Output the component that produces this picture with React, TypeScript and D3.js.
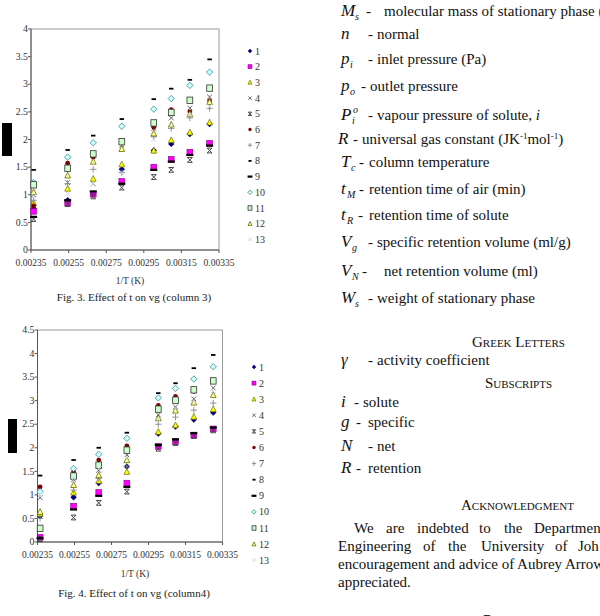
import * as d3 from "d3";

// 1/T of the column temperatures (150, 120, 100, 80, 60, 50, 40, 30 °C)
const invT = [0.002364, 0.002545, 0.002681, 0.002833, 0.003003, 0.003096, 0.003195, 0.0033];
const xTickLabels = ["0.00235", "0.00255", "0.00275", "0.00295", "0.00315", "0.00335"];
const seriesNames = ["1", "2", "3", "4", "5", "6", "7", "8", "9", "10", "11", "12", "13"];

// ln Vg per solute, column 3
const fig3Vg: number[][] = [
  [0.75, 0.9, 1.02, 1.46, 1.8, 1.92, 2.1, 2.28],
  [0.7, 0.85, 1.01, 1.24, 1.5, 1.64, 1.77, 1.93],
  [0.85, 1.11, 1.29, 1.55, 1.8, 1.99, 2.13, 2.31],
  [1.0, 1.22, 1.2, 1.9, 2.2, 2.39, 2.57, 2.77],
  [0.56, 0.83, 0.97, 1.13, 1.32, 1.45, 1.63, 1.8],
  [0.8, 1.57, 1.68, 1.95, 2.22, 2.54, 2.5, 2.7],
  [0.9, 1.2, 1.46, 1.4, 2.05, 2.2, 2.39, 2.56],
  [1.45, 1.81, 2.07, 2.37, 2.73, 2.92, 3.08, 3.45],
  [0.6, 0.9, 1.06, 1.2, 1.45, 1.6, 1.72, 1.89],
  [1.22, 1.68, 1.94, 2.24, 2.55, 2.74, 2.98, 3.22],
  [1.18, 1.48, 1.74, 1.96, 2.3, 2.49, 2.71, 2.93],
  [1.05, 1.35, 1.6, 1.83, 2.11, 2.27, 2.46, 2.68],
  [0.98, 1.02, 1.2, 1.4, 2.0, 2.25, 2.45, 2.6],
];

// ln Vg per solute, column 4
const fig4Vg: number[][] = [
  [0.55, 0.95, 1.25, 1.6, 2.3, 2.45, 2.6, 2.75],
  [0.1, 0.76, 1.05, 1.25, 2.03, 2.13, 2.27, 2.4],
  [0.6, 1.05, 1.3, 1.49, 2.34, 2.48, 2.66, 2.82],
  [0.94, 1.32, 1.52, 1.85, 2.7, 2.87, 3.04, 3.27],
  [0.06, 0.52, 0.83, 1.07, 1.98, 2.1, 2.25, 2.37],
  [1.17, 1.49, 1.74, 2.04, 2.9, 3.09, 3.2, 3.4],
  [0.5, 1.1, 1.35, 1.6, 2.5, 2.65, 2.8, 2.95],
  [1.41, 1.74, 2.0, 2.32, 3.16, 3.37, 3.69, 3.97],
  [0.08, 0.69, 0.98, 1.17, 2.06, 2.18, 2.31, 2.43],
  [1.07, 1.56, 1.86, 2.2, 3.06, 3.26, 3.46, 3.72],
  [0.29, 1.4, 1.63, 1.95, 2.82, 3.01, 3.23, 3.42],
  [0.64, 1.21, 1.42, 1.74, 2.63, 2.79, 2.96, 3.12],
  [1.0, 1.35, 1.55, 1.8, 2.6, 2.85, 3.0, 3.2],
];

const markerKinds = [
  "diamond", "square", "triangle", "x", "star", "circle", "plus",
  "dashShort", "dashLong", "diamondOpen", "squareOpen", "triangleOpen", "xLight",
];

const serif = "'Liberation Serif', 'Times New Roman', serif";

function Marker({ kind, x, y, s }: { kind: string; x: number; y: number; s: number }) {
  const dia = `M${x},${y - s}L${x + s},${y}L${x},${y + s}L${x - s},${y}Z`;
  const tri = `M${x},${y - s}L${x + s * 0.9},${y + s * 0.8}L${x - s * 0.9},${y + s * 0.8}Z`;
  const k = s * 0.75;
  switch (kind) {
    case "diamond":
      return <path d={dia} fill="#000080" />;
    case "square":
      return <rect x={x - s * 0.9} y={y - s * 0.9} width={s * 1.8} height={s * 1.8} fill="#ff00ff" stroke="#800080" strokeWidth={0.6} />;
    case "triangle":
      return <path d={tri} fill="#ffff00" stroke="#6b6b00" strokeWidth={0.7} />;
    case "x":
      return <path d={`M${x - k},${y - k}L${x + k},${y + k}M${x + k},${y - k}L${x - k},${y + k}`} stroke="#555" strokeWidth={0.9} />;
    case "star":
      return (
        <path
          d={`M${x - k},${y - k}L${x + k},${y + k}M${x + k},${y - k}L${x - k},${y + k}M${x - k},${y - k}L${x + k},${y - k}M${x - k},${y + k}L${x + k},${y + k}`}
          stroke="#333"
          strokeWidth={0.9}
        />
      );
    case "circle":
      return <circle cx={x} cy={y} r={s * 0.75} fill="#800000" />;
    case "plus":
      return <path d={`M${x - s},${y}L${x + s},${y}M${x},${y - s}L${x},${y + s}`} stroke="#888" strokeWidth={0.9} />;
    case "dashShort":
      return <rect x={x - s * 0.7} y={y - 0.9} width={s * 1.4} height={1.8} fill="#000" />;
    case "dashLong":
      return <rect x={x - s * 1.1} y={y - 1.1} width={s * 2.2} height={2.2} fill="#000" />;
    case "diamondOpen":
      return <path d={dia} fill="#ccffff" stroke="#3a8c8c" strokeWidth={0.8} />;
    case "squareOpen":
      return <rect x={x - s * 0.9} y={y - s} width={s * 1.8} height={s * 2} fill="#ccffcc" stroke="#333" strokeWidth={0.8} />;
    case "triangleOpen":
      return <path d={tri} fill="#ffff99" stroke="#6b6b00" strokeWidth={0.8} />;
    default:
      return <path d={`M${x - k},${y - k}L${x + k},${y + k}M${x + k},${y - k}L${x - k},${y + k}`} stroke="#c3d3e6" strokeWidth={0.9} />;
  }
}

type Box = { left: number; right: number; top: number; bottom: number };

function ScatterPanel(props: {
  values: number[][];
  box: Box;
  yMax: number;
  legendX: number;
  legendY: number;
  legendStep: number;
  titleY: number;
  captionY: number;
  caption: string;
  redact: Box;
}) {
  const { values, box, yMax, legendX, legendY, legendStep } = props;
  const x = d3.scaleLinear().domain([0.00235, 0.00335]).range([box.left, box.right]);
  const y = d3.scaleLinear().domain([0, yMax]).range([box.bottom, box.top]);
  const yTicks = d3.range(0, yMax + 1e-9, 0.5);

  return (
    <g fontFamily={serif}>
      <rect x={box.left} y={box.top} width={box.right - box.left} height={box.bottom - box.top} fill="#fff" stroke="#9a9a9a" strokeWidth={1} />
      <line x1={box.left} x2={box.left} y1={box.top} y2={box.bottom} stroke="#555" />
      <line x1={box.left} x2={box.right} y1={box.bottom} y2={box.bottom} stroke="#555" />
      {yTicks.map((t) => (
        <g key={t}>
          <line x1={box.left - 3} x2={box.left} y1={y(t)} y2={y(t)} stroke="#555" />
          <text x={box.left - 3} y={y(t) + 3.2} fontSize={9.8} textAnchor="end" fill="#333">
            {+t.toFixed(1)}
          </text>
        </g>
      ))}
      {xTickLabels.map((t) => (
        <g key={t}>
          <line x1={x(+t)} x2={x(+t)} y1={box.bottom} y2={box.bottom + 3} stroke="#555" />
          <text x={x(+t)} y={box.bottom + 16} fontSize={9.5} textAnchor="middle" fill="#333">
            {t}
          </text>
        </g>
      ))}
      {values.map((row, si) =>
        row.map((v, i) => <Marker key={`${si}-${i}`} kind={markerKinds[si]} x={x(invT[i])} y={y(v)} s={3.2} />)
      )}
      {seriesNames.map((name, si) => (
        <g key={name}>
          <Marker kind={markerKinds[si]} x={legendX} y={legendY + si * legendStep} s={2.2} />
          <text x={legendX + 5} y={legendY + si * legendStep + 3.5} fontSize={10} fill="#333">
            {name}
          </text>
        </g>
      ))}
      <text x={(box.left + box.right) / 2 + 5} y={props.titleY} fontSize={9.5} textAnchor="middle" fill="#333">
        1/T (K)
      </text>
      <text x={134} y={props.captionY} fontSize={11} textAnchor="middle" fill="#222">
        {props.caption}
      </text>
      <rect
        x={props.redact.left}
        y={props.redact.top}
        width={props.redact.right - props.redact.left}
        height={props.redact.bottom - props.redact.top}
        fill="#000"
      />
    </g>
  );
}

// advance of the italic symbol, used to place its sub/superscript
const symAdvance: Record<string, number> = { M: 14, p: 9, P: 11, T: 10, t: 6, V: 11, W: 14 };
const FS = 15;

// one nomenclature line: italic symbol with optional sub/superscript, a dash, then description
function Nom(props: { sym: string; sub?: string; sup?: string; y: number; symX?: number; dash: number; tx?: number; children: any }) {
  const { sym, sub, sup, y, dash } = props;
  const sx = props.symX ?? 341;
  const adv = symAdvance[sym] ?? 10;
  return (
    <g>
      <text x={sx} y={y} fontSize={17} fontStyle="italic">
        {sym}
      </text>
      {sup && (
        <text x={sx + adv + 1} y={y - 7} fontSize={10} fontStyle="italic">
          {sup}
        </text>
      )}
      {sub && (
        <text x={sx + adv} y={y + 4} fontSize={10} fontStyle="italic">
          {sub}
        </text>
      )}
      <text x={dash} y={y} fontSize={FS}>
        -
      </text>
      <text x={props.tx ?? dash + 9} y={y} fontSize={FS}>
        {props.children}
      </text>
    </g>
  );
}

function SmallCaps({ words, x, y }: { words: string[]; x: number; y: number }) {
  return (
    <text x={x} y={y} fontSize={FS}>
      {words.map((w, i) => (
        <tspan key={i}>
          {w[0]}
          <tspan fontSize={11}>{w.slice(1).toUpperCase()}</tspan>
          {i < words.length - 1 ? " " : ""}
        </tspan>
      ))}
    </text>
  );
}

const ackLine1: [string, number][] = [
  ["We", 354], ["are", 386], ["indebted", 417], ["to", 479], ["the", 504], ["Departmen", 534],
];
const ackLine2: [string, number][] = [
  ["Engineering", 338], ["of", 423], ["the", 448], ["University", 481], ["of", 555], ["Joh", 578],
];

function RightColumn() {
  return (
    <g fontFamily={serif} fill="#111">
      <Nom sym="M" sub="s" y={16} dash={366} tx={384}>molecular mass of stationary phase (</Nom>
      <Nom sym="n" y={39} dash={368}>normal</Nom>
      <Nom sym="p" sub="i" y={64} dash={368}>inlet pressure (Pa)</Nom>
      <Nom sym="p" sub="o" y={91} dash={361}>outlet pressure</Nom>
      <Nom sym="P" sub="i" sup="o" y={120} dash={368}>
        vapour pressure of solute, <tspan fontStyle="italic">i</tspan>
      </Nom>
      <Nom sym="R" symX={338} y={144} dash={353}>
        universal gas constant (JK
        <tspan fontSize={9} dy={-5}>-1</tspan>
        <tspan dy={5}>mol</tspan>
        <tspan fontSize={9} dy={-5}>-1</tspan>
        <tspan dy={5}>)</tspan>
      </Nom>
      <Nom sym="T" sub="c" y={167} dash={359} tx={369}>column temperature</Nom>
      <Nom sym="t" sub="M" y={194} dash={359} tx={369}>retention time of air (min)</Nom>
      <Nom sym="t" sub="R" y={220} dash={358} tx={369}>retention time of solute</Nom>
      <Nom sym="V" sub="g" y={247} dash={368}>specific retention volume (ml/g)</Nom>
      <Nom sym="V" sub="N" y={276} dash={362} tx={384}>net retention volume (ml)</Nom>
      <Nom sym="W" sub="s" y={303} dash={368}>weight of stationary phase</Nom>
      <SmallCaps words={["Greek", "Letters"]} x={472} y={347} />
      <Nom sym="γ" y={365} dash={368}>activity coefficient</Nom>
      <SmallCaps words={["Subscripts"]} x={485} y={388} />
      <Nom sym="i" y={407} dash={354} tx={363}>solute</Nom>
      <Nom sym="g" y={427} dash={356} tx={368}>specific</Nom>
      <Nom sym="N" y={451} dash={368}>net</Nom>
      <Nom sym="R" y={473} dash={356} tx={368}>retention</Nom>
      <SmallCaps words={["Acknowledgment"]} x={461} y={510} />
      <g fontSize={FS}>
        {ackLine1.map(([w, px], i) => (
          <text key={`a${i}`} x={px} y={533}>{w}</text>
        ))}
        {ackLine2.map(([w, px], i) => (
          <text key={`b${i}`} x={px} y={551}>{w}</text>
        ))}
        <text x={338} y={569}>encouragement and advice of Aubrey Arrow</text>
        <text x={338} y={587}>appreciated.</text>
      </g>
      <SmallCaps words={["References"]} x={483} y={625} />
    </g>
  );
}

export default function App() {
  return (
    <svg width={600} height={616} style={{ position: "fixed", left: 0, top: 0, background: "#fff" }}>
      <rect width={600} height={616} fill="#fff" />
      <ScatterPanel
        values={fig3Vg}
        box={{ left: 31, right: 219, top: 29, bottom: 250 }}
        yMax={4}
        legendX={250}
        legendY={51}
        legendStep={15.7}
        titleY={284}
        captionY={301}
        caption="Fig. 3. Effect of t on vg (column 3)"
        redact={{ left: 2, right: 12, top: 123, bottom: 156 }}
      />
      <ScatterPanel
        values={fig4Vg}
        box={{ left: 37.5, right: 222.5, top: 330, bottom: 542 }}
        yMax={4.5}
        legendX={254}
        legendY={367}
        legendStep={16.1}
        titleY={577}
        captionY={597}
        caption="Fig. 4. Effect of t on vg (column4)"
        redact={{ left: 8, right: 17, top: 419, bottom: 453 }}
      />
      <RightColumn />
    </svg>
  );
}
